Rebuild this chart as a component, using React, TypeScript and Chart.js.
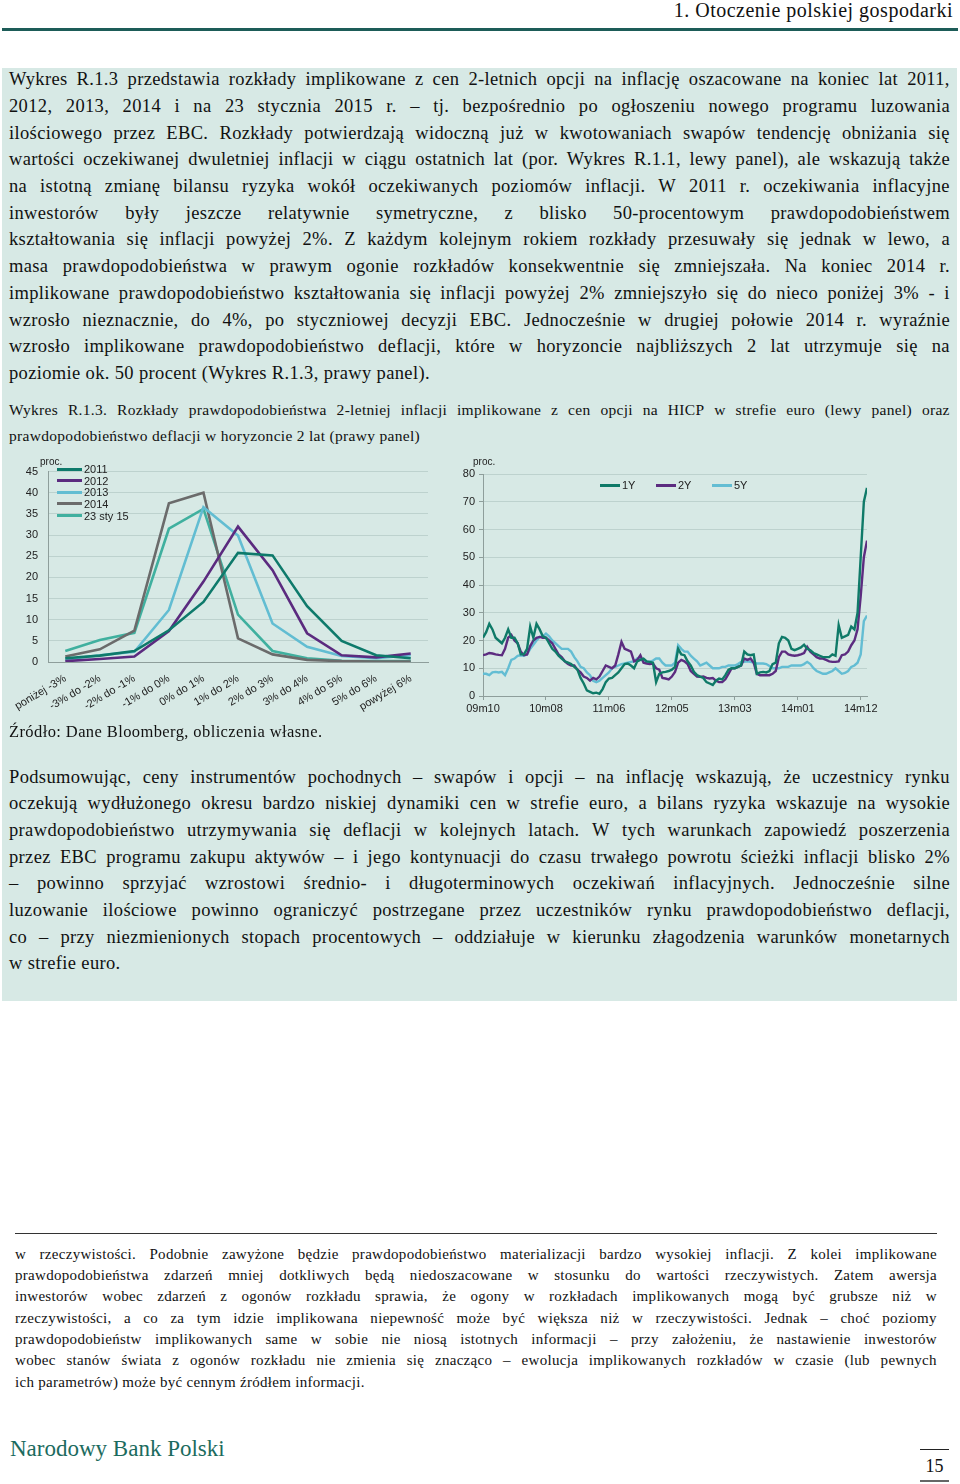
import React, { useEffect, useRef } from 'react';
import { Chart, registerables } from 'chart.js';

Chart.register(...registerables);

// ---------- Left panel: implied distributions ----------
const distCategories = [
  'poniżej -3%', '-3% do -2%', '-2% do -1%', '-1% do 0%', '0% do 1%', '1% do 2%',
  '2% do 3%', '3% do 4%', '4% do 5%', '5% do 6%', 'powyżej 6%',
];
const distSeriesNames = ['2011', '2012', '2013', '2014', '23 sty 15'];
const dist2011 = [0.9, 1.5, 2.6, 7.5, 14.2, 25.8, 25.2, 13.2, 5.0, 1.6, 0.9];
const dist2012 = [0.2, 0.7, 1.3, 7.3, 19.0, 32.0, 21.7, 6.8, 1.6, 1.1, 2.0];
const dist2013 = [0.6, 1.6, 2.4, 12.3, 36.6, 29.9, 9.1, 3.6, 1.4, 0.9, 1.6];
const dist2014 = [1.3, 3.0, 7.4, 37.5, 40.0, 5.6, 1.8, 0.5, 0.2, 0.1, 0.1];
const dist2015 = [2.6, 5.2, 6.9, 31.5, 36.2, 11.2, 2.6, 0.9, 0.3, 0.2, 0.2];
const distColors = ['#0e7a6b', '#5b2b7f', '#62bdd2', '#6b6b6b', '#40b09f'];

// ---------- Right panel: deflation probability (half-monthly readings) ----------
const probSeriesNames = ['1Y', '2Y', '5Y'];
const probTickLabels = ['09m10', '10m08', '11m06', '12m05', '13m03', '14m01', '14m12'];
const probTickIdx = [0, 20, 40, 60, 80, 100, 120];
const prob1Y = [
  21, 23, 26, 24, 21, 20, 19, 21, 24, 21, 21, 19, 15, 15, 17, 25, 21, 26, 24, 21.5,
  21, 19, 17, 16, 14.5, 13.5, 12.5, 12, 11.5, 10.5, 9.5, 6.5, 4.5, 2, 1.5, 1, 1.2, 0.8, 2.5, 5,
  6.3, 6.5, 7.5, 8.5, 10, 11.5, 11.7, 11, 10, 12.5, 13, 13.5, 12.5, 12.3, 12, 5, 8, 8.5, 8.7, 9,
  9.5, 10.5, 17, 15, 14.7, 12.5, 11, 8.7, 7.5, 7, 6.5, 5, 4.5, 4, 5.5, 6.3, 6, 7.5, 9.5, 10,
  10, 10.5, 11, 16, 15, 14.7, 15, 8, 8.5, 8.7, 8.5, 9, 11.5, 12, 19, 21.3, 21, 20, 17, 16.5,
  17, 17.5, 18.5, 17, 16.5, 15.5, 15, 14.5, 14, 14, 14, 15, 14.5, 25.5, 21, 21.5, 22, 25, 24, 30,
  50, 70, 75,
];
const prob2Y = [
  14.7, 15, 15.5, 15.3, 15, 14.8, 14.7, 17, 21, 22, 20, 19, 16, 14.7, 15, 18, 20, 21, 21.3, 21,
  21, 20, 19, 17, 15, 14, 12.5, 11.5, 11, 11, 9.5, 8.5, 7, 6.5, 5.5, 6.5, 6, 7, 9, 11,
  10.5, 10, 11, 15, 19.5, 17, 16.5, 16, 12.5, 13, 14.7, 12, 11.7, 11.5, 11.7, 10, 9.5, 6.5, 6.3, 6,
  7, 8.7, 12, 13, 12.5, 11.5, 9, 8, 7, 6.9, 7, 6.5, 6.3, 6.5, 5.5, 5, 5, 6, 8, 10,
  10, 10.5, 11, 13.5, 13, 13.5, 12, 8, 7.5, 7.5, 7.5, 7.5, 8, 9, 14, 16, 16, 15, 14.7, 14.5,
  14.7, 15, 15.5, 17.7, 16, 15, 14, 13.5, 13.5, 13, 12.5, 12.3, 12.3, 12.5, 14.7, 15, 16, 18.3, 20, 24,
  36, 50, 56,
];
const prob5Y = [
  8, 8, 7.5, 8.5, 8.7, 8.5, 8.7, 7.5, 10, 13, 13.5, 14.5, 14.7, 14.5, 15, 17, 18.5, 20, 21.3, 21.5,
  22.5, 21.5, 20, 19, 18, 17, 17, 17, 16, 14, 12.5, 10.5, 10, 8.5, 7.5, 5.5, 5, 5.5, 6.5, 7.5,
  8.5, 10, 10.5, 11, 11.5, 11.7, 12, 12.3, 12.5, 13.5, 13.5, 12.5, 12.3, 12.3, 12.8, 13.5, 13.5, 12, 11, 11,
  11, 12, 18.3, 17, 16, 16, 14.5, 13.5, 12.5, 11, 11.5, 12, 11, 10, 10, 10, 10.5, 10.5, 11, 11,
  11, 11.5, 12.3, 12.3, 12.5, 12.3, 12, 11.7, 11.7, 11.7, 11.5, 10.8, 10, 10, 10, 10.5, 10.5, 10.5, 11, 11,
  11, 11, 11.5, 12.3, 11.5, 10, 9, 8.5, 8, 8, 8.5, 9, 10, 9, 8, 8.3, 9, 10.5, 11, 12,
  15, 27, 29,
];
const probColors = ['#0f7a68', '#5c2c80', '#63bdd3'];

// ---------- Page text ----------
const para1 = [
  'Wykres R.1.3 przedstawia rozkłady implikowane z cen 2-letnich opcji na inflację oszacowane na koniec lat 2011,',
  '2012, 2013, 2014 i na 23 stycznia 2015 r. – tj. bezpośrednio po ogłoszeniu nowego programu luzowania',
  'ilościowego przez EBC. Rozkłady potwierdzają widoczną już w kwotowaniach swapów tendencję obniżania się',
  'wartości oczekiwanej dwuletniej inflacji w ciągu ostatnich lat (por. Wykres R.1.1, lewy panel), ale wskazują także',
  'na istotną zmianę bilansu ryzyka wokół oczekiwanych poziomów inflacji. W 2011 r. oczekiwania inflacyjne',
  'inwestorów były jeszcze relatywnie symetryczne, z blisko 50-procentowym prawdopodobieństwem',
  'kształtowania się inflacji powyżej 2%. Z każdym kolejnym rokiem rozkłady przesuwały się jednak w lewo, a',
  'masa prawdopodobieństwa w prawym ogonie rozkładów konsekwentnie się zmniejszała. Na koniec 2014 r.',
  'implikowane prawdopodobieństwo kształtowania się inflacji powyżej 2% zmniejszyło się do nieco poniżej 3% - i',
  'wzrosło nieznacznie, do 4%, po styczniowej decyzji EBC. Jednocześnie w drugiej połowie 2014 r. wyraźnie',
  'wzrosło implikowane prawdopodobieństwo deflacji, które w horyzoncie najbliższych 2 lat utrzymuje się na',
  'poziomie ok. 50 procent (Wykres R.1.3, prawy panel).',
];
const para1Y = [82, 109, 136, 162, 189, 216, 242, 269, 296, 323, 349, 376];
const caption = [
  'Wykres R.1.3. Rozkłady prawdopodobieństwa 2-letniej inflacji implikowane z cen opcji na HICP w strefie euro (lewy panel) oraz',
  'prawdopodobieństwo deflacji w horyzoncie 2 lat (prawy panel)',
];
const captionY = [411, 437];
const para2 = [
  'Podsumowując, ceny instrumentów pochodnych – swapów i opcji – na inflację wskazują, że uczestnicy rynku',
  'oczekują wydłużonego okresu bardzo niskiej dynamiki cen w strefie euro, a bilans ryzyka wskazuje na wysokie',
  'prawdopodobieństwo utrzymywania się deflacji w kolejnych latach. W tych warunkach zapowiedź poszerzenia',
  'przez EBC programu zakupu aktywów – i jego kontynuacji do czasu trwałego powrotu ścieżki inflacji blisko 2%',
  '– powinno sprzyjać wzrostowi średnio- i długoterminowych oczekiwań inflacyjnych. Jednocześnie silne',
  'luzowanie ilościowe powinno ograniczyć postrzegane przez uczestników rynku prawdopodobieństwo deflacji,',
  'co – przy niezmienionych stopach procentowych – oddziałuje w kierunku złagodzenia warunków monetarnych',
  'w strefie euro.',
];
const para2Y = [780, 806, 833, 860, 886, 913, 940, 966];
const footnote = [
  'w rzeczywistości. Podobnie zawyżone będzie prawdopodobieństwo materializacji bardzo wysokiej inflacji. Z kolei implikowane',
  'prawdopodobieństwa zdarzeń mniej dotkliwych będą niedoszacowane w stosunku do wartości rzeczywistych. Zatem awersja',
  'inwestorów wobec zdarzeń z ogonów rozkładu sprawia, że ogony w rozkładach implikowanych mogą być grubsze niż w',
  'rzeczywistości, a co za tym idzie implikowana niepewność może być większa niż w rzeczywistości. Jednak – choć poziomy',
  'prawdopodobieństw implikowanych same w sobie nie niosą istotnych informacji – przy założeniu, że nastawienie inwestorów',
  'wobec stanów świata z ogonów rozkładu nie zmienia się znacząco – ewolucja implikowanych rozkładów w czasie (lub pewnych',
  'ich parametrów) może być cennym źródłem informacji.',
];
const footnoteY = [1256, 1277, 1298, 1320, 1341, 1362, 1384];

const SERIF = '"Liberation Serif", "Times New Roman", serif';
const SANS = '"Liberation Sans", Arial, sans-serif';
const GRID = '#bdd2ce';
const AXIS = '#8e9e9b';
const BOX_BG = '#d7e9e5';

function TextLine(props: {
  y: number; text: string; size: number; left?: number; width?: number;
  justify?: boolean; family?: string; color?: string; spacing?: number;
}) {
  const { y, text, size, left = 9, width = 941, justify = true, family = SERIF, color = '#111', spacing = 0 } = props;
  const lh = Math.round(size * 1.25);
  const style: React.CSSProperties = {
    position: 'absolute', left, top: y - size * 0.73, width, fontFamily: family,
    fontSize: size, lineHeight: lh + 'px', color, whiteSpace: 'nowrap', letterSpacing: spacing,
  };
  if (!justify) return <div style={style}>{text}</div>;
  const words = text.split(' ');
  return (
    <div style={{ ...style, display: 'flex', justifyContent: 'space-between' }}>
      {words.map((w, i) => <span key={i}>{w}</span>)}
    </div>
  );
}

function DistChart() {
  const ref = useRef<HTMLCanvasElement>(null);
  useEffect(() => {
    const series = [dist2011, dist2012, dist2013, dist2014, dist2015];
    const chart = new Chart(ref.current!, {
      type: 'line',
      data: {
        labels: distCategories,
        datasets: series.map((d, i) => ({
          label: distSeriesNames[i], data: d, borderColor: distColors[i],
          borderWidth: 2.6, pointRadius: 0, tension: 0, fill: false,
        })),
      },
      options: {
        animation: false, responsive: false, maintainAspectRatio: false,
        layout: { padding: { top: 16, right: 2, left: 0, bottom: 0 } },
        plugins: { legend: { display: false }, tooltip: { enabled: false } },
        scales: {
          x: {
            offset: true,
            grid: { display: false },
            border: { display: true, color: AXIS, width: 1 },
            ticks: {
              minRotation: 31, maxRotation: 31, autoSkip: false, color: '#222',
              font: { family: SANS, size: 11 }, padding: 2,
            },
            afterFit: (s: any) => { s.height = 83; },
          },
          y: {
            min: 0, max: 45,
            ticks: { stepSize: 5, color: '#222', font: { family: SANS, size: 11 }, padding: 10 },
            grid: { color: GRID, drawTicks: false, tickLength: 0 },
            border: { display: true, color: AXIS, width: 1 },
            afterFit: (s: any) => { s.width = 48; },
          },
        },
      },
    });
    return () => chart.destroy();
  }, []);
  return (
    <canvas ref={ref} width={430} height={290}
      style={{ position: 'absolute', left: 0, top: 455, width: 430, height: 290 }} />
  );
}

function ProbChart() {
  const ref = useRef<HTMLCanvasElement>(null);
  useEffect(() => {
    const series = [prob1Y, prob2Y, prob5Y];
    const chart = new Chart(ref.current!, {
      type: 'line',
      data: {
        datasets: series.map((d, i) => ({
          label: probSeriesNames[i], data: d.map((v, k) => ({ x: k, y: v })),
          borderColor: probColors[i], borderWidth: 2.4, pointRadius: 0, tension: 0, fill: false,
        })),
      },
      options: {
        animation: false, responsive: false, maintainAspectRatio: false,
        layout: { padding: { top: 19, right: 93, left: 0, bottom: 0 } },
        plugins: { legend: { display: false }, tooltip: { enabled: false } },
        scales: {
          x: {
            type: 'linear', min: 0, max: prob1Y.length - 1,
            grid: { drawOnChartArea: false, drawTicks: true, tickLength: 4, color: AXIS, tickColor: AXIS },
            border: { display: true, color: AXIS, width: 1 },
            afterBuildTicks: (s: any) => { s.ticks = probTickIdx.map((v) => ({ value: v })); },
            ticks: {
              color: '#222', font: { family: SANS, size: 11 }, padding: 2, maxRotation: 0,
              callback: (v: any) => {
                const k = probTickIdx.indexOf(Number(v));
                return k >= 0 ? probTickLabels[k] : '';
              },
            },
            afterFit: (s: any) => { s.height = 29; },
          },
          y: {
            min: 0, max: 80,
            ticks: { stepSize: 10, color: '#222', font: { family: SANS, size: 11 }, padding: 4 },
            grid: { color: GRID, tickLength: 4, tickColor: AXIS },
            border: { display: true, color: AXIS, width: 1 },
            afterFit: (s: any) => { s.width = 43; },
          },
        },
      },
    });
    return () => chart.destroy();
  }, []);
  return (
    <canvas ref={ref} width={520} height={270}
      style={{ position: 'absolute', left: 440, top: 455, width: 520, height: 270 }} />
  );
}

const small: React.CSSProperties = { position: 'absolute', fontFamily: SANS, fontSize: 11, color: '#222', lineHeight: '12px', whiteSpace: 'nowrap' };

function DistLegend() {
  const rows = [469, 480.5, 492, 503.5, 515.5];
  return (
    <>
      {distSeriesNames.map((n, i) => (
        <React.Fragment key={n}>
          <div style={{ position: 'absolute', left: 57, top: rows[i] - 1.5, width: 25, height: 3, background: distColors[i] }} />
          <div style={{ ...small, left: 84, top: rows[i] - 6 }}>{n}</div>
        </React.Fragment>
      ))}
    </>
  );
}

function ProbLegend() {
  const xs = [600, 656, 712];
  return (
    <>
      {probSeriesNames.map((n, i) => (
        <React.Fragment key={n}>
          <div style={{ position: 'absolute', left: xs[i], top: 484, width: 20, height: 2.5, background: probColors[i] }} />
          <div style={{ ...small, left: xs[i] + 22, top: 479 }}>{n}</div>
        </React.Fragment>
      ))}
    </>
  );
}

export default function App() {
  return (
    <div style={{ position: 'absolute', left: 0, top: 0, width: 960, height: 1484, background: '#fff', overflow: 'hidden' }}>
      <div style={{ position: 'absolute', right: 7, top: -2, fontFamily: SERIF, fontSize: 20, lineHeight: '25px', color: '#111', letterSpacing: 0.5, whiteSpace: 'nowrap' }}>
        1. Otoczenie polskiej gospodarki
      </div>
      <div style={{ position: 'absolute', left: 2, top: 28, width: 956, height: 3, background: '#1d5c58' }} />

      <div style={{ position: 'absolute', left: 2, top: 68, width: 955, height: 933, background: BOX_BG }} />

      {para1.map((t, i) => (
        <TextLine key={'p1' + i} y={para1Y[i]} text={t} size={18.5} spacing={0.35} justify={i < para1.length - 1} />
      ))}
      {caption.map((t, i) => (
        <TextLine key={'c' + i} y={captionY[i]} text={t} size={15.5} spacing={0.3} justify={i === 0} />
      ))}

      <DistChart />
      <div style={{ ...small, fontSize: 10, left: 40, top: 456 }}>proc.</div>
      <DistLegend />

      <ProbChart />
      <div style={{ ...small, fontSize: 10, left: 473, top: 456 }}>proc.</div>
      <ProbLegend />

      <TextLine y={733} text="Źródło: Dane Bloomberg, obliczenia własne." size={16.5} spacing={0.4} justify={false} />

      {para2.map((t, i) => (
        <TextLine key={'p2' + i} y={para2Y[i]} text={t} size={18.5} spacing={0.35} justify={i < para2.length - 1} />
      ))}

      <div style={{ position: 'absolute', left: 15, top: 1233, width: 922, height: 1, background: '#333' }} />
      {footnote.map((t, i) => (
        <TextLine key={'f' + i} y={footnoteY[i]} text={t} size={15} spacing={0.3} left={15} width={922} justify={i < footnote.length - 1} />
      ))}

      <div style={{ position: 'absolute', left: 10, top: 1435, fontFamily: SERIF, fontSize: 23, lineHeight: '28px', color: '#1c6b5e', whiteSpace: 'nowrap' }}>
        Narodowy Bank Polski
      </div>
      <div style={{ position: 'absolute', left: 920, top: 1449, width: 29, height: 1, background: '#222' }} />
      <div style={{ position: 'absolute', left: 920, top: 1455, width: 29, textAlign: 'center', fontFamily: SERIF, fontSize: 18, lineHeight: '22px', color: '#111' }}>
        15
      </div>
      <div style={{ position: 'absolute', left: 920, top: 1480, width: 29, height: 2, background: '#666' }} />
    </div>
  );
}
